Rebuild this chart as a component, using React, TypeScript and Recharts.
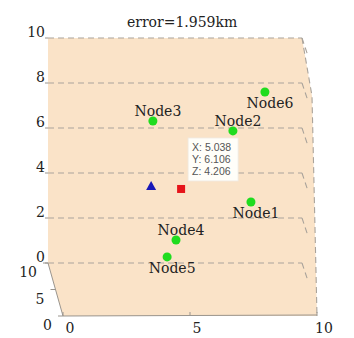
import React from 'react';
import { ScatterChart, Scatter, XAxis, YAxis, ReferenceArea } from 'recharts';

const chartTitle = 'error=1.959km';
const nodeNames = ['Node1', 'Node2', 'Node3', 'Node4', 'Node5', 'Node6'];
const nodeX = [7.99, 7.28, 4.13, 5.04, 4.69, 8.54];
const nodeZ = [2.71, 5.87, 6.31, 1.02, 0.27, 7.6];
const trueX = [4.06];
const trueZ = [3.42];
const estX = [5.24];
const estZ = [3.29];
const tipLines = ['X: 5.038', 'Y: 6.106', 'Z: 4.206'];
const zTicks = [0, 2, 4, 6, 8, 10];
const xTicks = [0, 5, 10];
const depthTicks = [10, 5, 0];

const nodes = nodeNames.map((name, i) => ({ name, x: nodeX[i], z: nodeZ[i] }));
const truePts = trueX.map((x, i) => ({ x, z: trueZ[i] }));
const estPts = estX.map((x, i) => ({ x, z: estZ[i] }));

const labelAbove = ['Node2', 'Node3', 'Node4'];

const serif = { fontFamily: "'DejaVu Serif', 'Liberation Serif', serif" };
const sans = { fontFamily: "'Liberation Sans', Arial, Helvetica, sans-serif" };
const GRID = '#a9a39b';
const DX = 15;
const DY = 53;
const FS = 14;

const BoxShape = (props: any) => {
  const { x, y, width, height } = props;
  const r = x + width;
  const b = y + height;
  const pts = [
    [x, y],
    [r, y],
    [r + 10, y + 58],
    [r + DX, b + DY],
    [x + DX, b + DY],
    [x, b],
  ];
  return (
    <g>
      <polygon points={pts.map((p) => p.join(',')).join(' ')} fill="#fae3c8" stroke="none" />
      {zTicks.map((t) => {
        const gy = y + height * (1 - t / 10);
        return (
          <g key={t}>
            <line x1={x} y1={gy} x2={r} y2={gy} stroke={GRID} strokeWidth={1.1} strokeDasharray="6 4" />
            <line x1={r} y1={gy} x2={r + 6} y2={gy + 18} stroke={GRID} strokeWidth={1.1} strokeDasharray="6 4" />
          </g>
        );
      })}
      <polyline
        points={`${r},${y} ${r + 10},${y + 58} ${r + DX},${b + DY}`}
        fill="none"
        stroke={GRID}
        strokeWidth={1.1}
        strokeDasharray="6 4"
      />
      <line x1={x} y1={b} x2={x + DX} y2={b + DY} stroke="#9a958e" strokeWidth={1} />
      <line x1={x + DX} y1={b + DY} x2={r + DX} y2={b + DY - 1} stroke="#9a958e" strokeWidth={1} />
      {depthTicks.map((d) => {
        const f = (10 - d) / 10;
        const tx = x + DX * f;
        const ty = b + DY * f;
        return (
          <g key={'d' + d}>
            <line x1={tx - 5} y1={ty} x2={tx} y2={ty} stroke="#9a958e" />
            <text x={tx - 11} y={ty + 9} textAnchor="end" dominantBaseline="central" style={serif} fontSize={FS} fill="#222">
              {d}
            </text>
          </g>
        );
      })}
      {xTicks.map((t) => {
        const tx = x + DX + (width * t) / 10;
        const ty = b + DY;
        return (
          <g key={'x' + t}>
            <line x1={tx} y1={ty - 4} x2={tx} y2={ty} stroke="#9a958e" />
            <text x={tx + 7} y={ty + 12} textAnchor="middle" dominantBaseline="central" style={serif} fontSize={FS} fill="#222">
              {t}
            </text>
          </g>
        );
      })}
      <text x={x + width * 0.528} y={22} textAnchor="middle" dominantBaseline="central" style={serif} fontSize={FS} fill="#222">
        {chartTitle}
      </text>
    </g>
  );
};

const NodeShape = (props: any) => {
  const { cx, cy, payload } = props;
  const above = labelAbove.includes(payload.name);
  return (
    <g>
      <circle cx={cx} cy={cy} r={4.5} fill="#1fdc1f" />
      <text
        x={cx + 5}
        y={above ? cy - 10 : cy + 11}
        textAnchor="middle"
        dominantBaseline="central"
        style={serif}
        fontSize={FS}
        fill="#222"
      >
        {payload.name}
      </text>
    </g>
  );
};

const TriShape = (props: any) => {
  const { cx, cy } = props;
  return <polygon points={`${cx - 5},${cy + 4} ${cx + 5},${cy + 4} ${cx},${cy - 5}`} fill="#1818b8" />;
};

const EstShape = (props: any) => {
  const { cx, cy } = props;
  const bx = cx + 7;
  const by = cy - 51;
  return (
    <g>
      <rect x={cx - 4} y={cy - 4} width={8} height={8} fill="#e6141a" />
      <rect x={bx} y={by} width={50} height={43} fill="#fffef9" stroke="#eeeae2" strokeWidth={0.8} />
      {tipLines.map((s, i) => (
        <text key={s} x={bx + 4} y={by + 9 + i * 12} dominantBaseline="central" style={sans} fontSize={10.5} fill="#555">
          {s}
        </text>
      ))}
    </g>
  );
};

const ZTick = (props: any) => {
  const { x, y, payload } = props;
  return (
    <text x={x} y={y - 6} textAnchor="end" dominantBaseline="central" style={serif} fontSize={FS} fill="#222">
      {payload.value}
    </text>
  );
};

export default function App() {
  return (
    <div style={{ position: 'absolute', left: 0, top: 0, background: '#fff' }}>
      <ScatterChart width={354} height={338} margin={{ top: 38, right: 52, bottom: 75, left: 0 }}>
        <XAxis type="number" dataKey="x" domain={[0, 10]} hide />
        <YAxis
          type="number"
          dataKey="z"
          domain={[0, 10]}
          ticks={zTicks}
          width={48}
          axisLine={false}
          tickSize={3}
          tickMargin={0}
          tickLine={{ stroke: '#9a958e' }}
          tick={<ZTick />}
        />
        <ReferenceArea x1={0} x2={10} y1={0} y2={10} shape={<BoxShape />} />
        <Scatter data={nodes} shape={<NodeShape />} isAnimationActive={false} />
        <Scatter data={truePts} shape={<TriShape />} isAnimationActive={false} />
        <Scatter data={estPts} shape={<EstShape />} isAnimationActive={false} />
      </ScatterChart>
    </div>
  );
}
